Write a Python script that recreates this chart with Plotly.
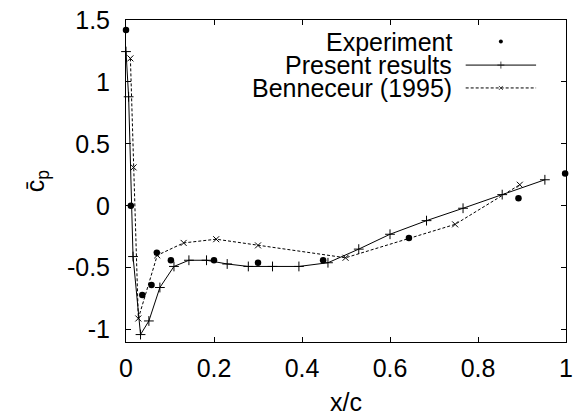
import plotly.graph_objects as go

# Experiment (filled dots)
exp_x = [0.0, 0.011, 0.037, 0.058, 0.07, 0.102, 0.20, 0.30, 0.448, 0.643, 0.892, 0.998]
exp_y = [1.42, 0.0, -0.72, -0.64, -0.38, -0.44, -0.44, -0.46, -0.44, -0.26, 0.06, 0.26]

# Present results (solid line, + markers)
pr_x = [0.0, 0.006, 0.016, 0.033, 0.052, 0.077, 0.109, 0.143, 0.183, 0.23, 0.278,
        0.333, 0.393, 0.459, 0.529, 0.60, 0.683, 0.766, 0.855, 0.952]
pr_y = [1.245, 0.88, -0.41, -1.04, -0.93, -0.66, -0.49, -0.44, -0.44, -0.47, -0.49,
        -0.49, -0.49, -0.46, -0.35, -0.23, -0.12, -0.02, 0.09, 0.21]

# Benneceur (1995) (dashed line, x markers)
bn_x = [0.010, 0.0172, 0.028, 0.071, 0.131, 0.205, 0.30, 0.499, 0.748, 0.895]
bn_y = [1.19, 0.31, -0.91, -0.40, -0.30, -0.27, -0.32, -0.42, -0.15, 0.17]

x_ticks = [0, 0.2, 0.4, 0.6, 0.8, 1]
x_ticklabels = ["0", "0.2", "0.4", "0.6", "0.8", "1"]
y_ticks = [-1, -0.5, 0, 0.5, 1, 1.5]
y_ticklabels = ["-1", "-0.5", "0", "0.5", "1", "1.5"]

legend_names = ["Experiment", "Present results", "Benneceur (1995)"]

FONT = "Liberation Sans, Arial, sans-serif"
FS = 25

fig = go.Figure()

fig.add_trace(go.Scatter(x=pr_x, y=pr_y, mode="lines+markers",
                         line=dict(color="black", width=1),
                         marker=dict(symbol="cross-thin", size=7, color="black",
                                     line=dict(color="black", width=1)),
                         cliponaxis=False, showlegend=False))
fig.add_trace(go.Scatter(x=bn_x, y=bn_y, mode="lines+markers",
                         line=dict(color="black", width=1, dash="3px,2px"),
                         marker=dict(symbol="x-thin", size=6, color="black",
                                     line=dict(color="black", width=1)),
                         cliponaxis=False, showlegend=False))
fig.add_trace(go.Scatter(x=exp_x, y=exp_y, mode="markers",
                         marker=dict(symbol="circle", size=6.5, color="black"),
                         cliponaxis=False, showlegend=False))

# Manual legend (text on left, sample on right), in an overlay axis spanning the plot area
leg_y = [0.933, 0.860, 0.789]
leg_text_x = 0.745
leg_line = [0.772, 0.932]
leg_mid = 0.852
for i, name in enumerate(legend_names):
    fig.add_annotation(x=leg_text_x, y=leg_y[i], xref="paper", yref="paper",
                       text=name, showarrow=False, xanchor="right", yanchor="middle",
                       font=dict(family=FONT, size=FS, color="black"))

fig.add_trace(go.Scatter(x=[leg_mid], y=[leg_y[0]], xaxis="x2", yaxis="y2", mode="markers",
                         marker=dict(symbol="circle", size=4, color="black"), showlegend=False))
fig.add_trace(go.Scatter(x=[leg_line[0], leg_mid, leg_line[1]], y=[leg_y[1]] * 3,
                         xaxis="x2", yaxis="y2", mode="lines+markers",
                         line=dict(color="black", width=1),
                         marker=dict(symbol="cross-thin", size=[0, 5, 0], color="black",
                                     line=dict(color="black", width=1)), showlegend=False))
fig.add_trace(go.Scatter(x=[leg_line[0], leg_mid, leg_line[1]], y=[leg_y[2]] * 3,
                         xaxis="x2", yaxis="y2", mode="lines+markers",
                         line=dict(color="black", width=1, dash="3px,2px"),
                         marker=dict(symbol="x-thin", size=[0, 4, 0], color="black",
                                     line=dict(color="black", width=1)), showlegend=False))

axis_common = dict(showgrid=False, zeroline=False, showline=True, linecolor="black",
                   linewidth=1, mirror="allticks", ticks="inside", ticklen=5,
                   tickcolor="black", tickwidth=1, automargin=False,
                   tickfont=dict(family=FONT, size=FS, color="black"))

fig.update_layout(
    width=575, height=419,
    margin=dict(l=126, r=9, t=20, b=77),
    paper_bgcolor="white", plot_bgcolor="white",
    font=dict(family=FONT, size=FS, color="black"),
    xaxis=dict(range=[0, 1], tickvals=x_ticks, ticktext=x_ticklabels,
               ticklabelstandoff=4,
               title=dict(text="x/c", font=dict(family=FONT, size=FS), standoff=12),
               **axis_common),
    yaxis=dict(range=[-1.1, 1.5], tickvals=y_ticks, ticktext=y_ticklabels,
               ticklabelstandoff=10,
               title=dict(text="c\u0304<sub>p</sub>", font=dict(family=FONT, size=FS), standoff=15),
               **axis_common),
    xaxis2=dict(range=[0, 1], overlaying="x", visible=False, anchor="y2"),
    yaxis2=dict(range=[0, 1], overlaying="y", visible=False, anchor="x2"),
)

fig.write_html("out.html")
